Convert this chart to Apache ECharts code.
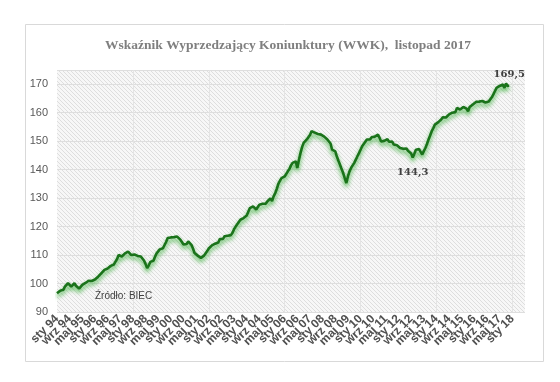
<!DOCTYPE html>
<html>
<head>
<meta charset="utf-8">
<script src="https://cdn.jsdelivr.net/npm/echarts@6/dist/echarts.min.js"></script>
<style>
html,body{margin:0;padding:0;background:#fff;}
#c{width:560px;height:382px;}
</style>
</head>
<body>
<div id="c"></div>
<script>
// ---- DATA ----
var monthNames = ['sty','lut','mar','kwi','maj','cze','lip','sie','wrz','paź','lis','gru'];
var startYear = 1994;
var axisMonths = 297; // Jan 1994 .. Sep 2018 (axis span)
var lastLabelIndex = 288; // "sty 18"
var yTicks = [90, 100, 110, 120, 130, 140, 150, 160, 170];
var wwk1994 = [96.6, 97.2, 97.5, 98.1, 97.8, 98.9, 99.4, 100.1, 99.5, 98.9, 99.6, 100.1];
var wwk1995 = [99.2, 98.6, 98.2, 98.9, 99.5, 99.1, 100.2, 100.7, 101.0, 101.3, 100.9, 100.7];
var wwk1996 = [101.4, 102.0, 102.4, 103.0, 103.6, 104.1, 104.8, 104.5, 105.3, 105.6, 106.2, 105.8];
var wwk1997 = [106.7, 107.7, 108.6, 110.0, 110.3, 109.5, 110.1, 110.6, 110.9, 111.2, 110.6, 110.0];
var wwk1998 = [109.8, 110.2, 109.5, 109.7, 109.3, 109.5, 108.9, 108.1, 106.9, 105.4, 106.3, 107.6];
var wwk1999 = [108.3, 108.0, 109.4, 110.6, 111.3, 112.0, 111.6, 112.4, 113.0, 114.6, 116.0, 116.4];
var wwk2000 = [116.2, 116.6, 116.3, 116.8, 116.5, 115.9, 115.4, 114.6, 113.7, 113.0, 113.9, 114.8];
var wwk2001 = [114.2, 113.6, 112.3, 110.7, 110.2, 109.8, 109.4, 109.0, 109.3, 109.8, 110.5, 111.4];
var wwk2002 = [112.3, 113.0, 113.4, 113.2, 114.0, 114.6, 114.4, 115.6, 116.0, 115.7, 116.6, 116.4];
var wwk2003 = [116.8, 117.2, 117.0, 117.8, 119.1, 120.0, 120.8, 121.6, 122.4, 122.1, 123.0, 123.6];
var wwk2004 = [123.9, 125.2, 126.5, 126.2, 127.1, 126.8, 126.0, 126.9, 127.7, 127.3, 128.0, 128.3];
var wwk2005 = [128.0, 128.8, 129.4, 129.9, 129.0, 130.6, 131.7, 133.2, 135.0, 136.1, 137.0, 137.4];
var wwk2006 = [137.6, 137.9, 139.4, 140.2, 141.5, 142.4, 142.0, 142.9, 140.6, 143.4, 145.8, 147.9];
var wwk2007 = [149.4, 150.0, 150.6, 151.1, 152.2, 153.5, 153.3, 153.0, 152.9, 152.5, 152.7, 152.3];
var wwk2008 = [151.9, 151.6, 151.1, 150.6, 149.9, 149.2, 147.0, 147.3, 146.4, 144.6, 143.1, 141.7];
var wwk2009 = [140.2, 138.8, 137.0, 135.3, 137.6, 139.4, 140.6, 141.3, 142.4, 143.5, 144.7, 145.8];
var wwk2010 = [147.0, 148.2, 149.0, 149.8, 150.6, 150.2, 150.6, 151.4, 151.1, 151.6, 152.0, 152.3];
var wwk2011 = [151.2, 149.9, 150.4, 150.1, 149.9, 150.7, 149.8, 149.4, 149.9, 148.8, 149.2, 148.6];
var wwk2012 = [148.2, 147.6, 148.0, 147.3, 147.0, 147.4, 146.6, 146.4, 145.7, 144.3, 145.6, 147.0];
var wwk2013 = [146.6, 147.2, 147.0, 145.3, 146.5, 147.6, 149.0, 150.6, 152.0, 153.5, 154.6, 155.8];
var wwk2014 = [155.8, 156.6, 157.3, 157.6, 158.4, 158.8, 158.3, 159.0, 159.4, 159.1, 160.0, 160.5];
var wwk2015 = [160.2, 161.7, 161.2, 161.1, 161.6, 162.0, 162.3, 161.4, 160.5, 162.0, 162.6, 162.9];
var wwk2016 = [163.4, 163.8, 164.1, 163.9, 164.3, 164.1, 163.8, 163.6, 163.5, 163.9, 164.6, 165.4];
var wwk2017 = [166.4, 167.6, 168.7, 168.2, 169.4, 169.0, 169.9, 168.7, 170.3, 169.4, 169.5];
var annotations = [
  {label: '169,5', value: 169.5, where: 'last'},
  {label: '144,3', value: 144.3, where: 'min2012'}
];
var titleText = 'Wskaźnik Wyprzedzający Koniunktury (WWK),  listopad 2017';
var sourceText = 'Źródło: BIEC';

// ---- BUILD ----
var values = [].concat(wwk1994, wwk1995, wwk1996, wwk1997, wwk1998, wwk1999, wwk2000,
  wwk2001, wwk2002, wwk2003, wwk2004, wwk2005, wwk2006, wwk2007, wwk2008, wwk2009,
  wwk2010, wwk2011, wwk2012, wwk2013, wwk2014, wwk2015, wwk2016, wwk2017);
var categories = [];
for (var i = 0; i < axisMonths; i++) {
  var y = startYear + Math.floor(i / 12);
  categories.push(monthNames[i % 12] + ' ' + String(y % 100).padStart(2, '0'));
}
var idx2012 = values.indexOf(144.3);
var markData = annotations.map(function (a) {
  var ix = a.where === 'last' ? values.length - 1 : idx2012;
  return {
    coord: [ix, a.value],
    value: a.label,
    label: {
      show: true, formatter: a.label,
      position: a.where === 'last' ? 'top' : 'bottom',
      distance: a.where === 'last' ? 6 : 10,
      color: '#404040', fontSize: 10, fontWeight: 'bold',
      fontFamily: 'DejaVu Serif'
    }
  };
});

// hatch pattern for plot background
var pat = document.createElement('canvas');
pat.width = 4; pat.height = 4;
var pctx = pat.getContext('2d');
pctx.fillStyle = '#f7f7f7';
pctx.fillRect(0, 0, 4, 4);
pctx.fillStyle = '#dedede';
for (var k = 0; k < 4; k++) { pctx.fillRect(k, k, 1, 1); }

var chart = echarts.init(document.getElementById('c'), null, {renderer: 'canvas'});
chart.setOption({
  animation: false,
  backgroundColor: '#ffffff',
  title: {
    text: titleText,
    left: 283, top: 34, textAlign: 'center',
    textStyle: {fontFamily: 'Liberation Serif', fontWeight: 'bold', fontSize: 13.5, color: '#7f7f7f'}
  },
  graphic: [
    {type: 'rect', shape: {x: 25.5, y: 24.5, width: 518, height: 337},
     style: {fill: 'none', stroke: '#d9d9d9', lineWidth: 1}, z: -1},
    {type: 'text', left: 95, top: 291,
     style: {text: sourceText, fill: '#404040', fontSize: 10, fontFamily: 'Liberation Sans'}, z: 10}
  ],
  grid: {
    left: 57, right: 35, top: 70, bottom: 70,
    show: true, borderWidth: 0,
    backgroundColor: {image: pat, repeat: 'repeat'}
  },
  xAxis: {
    type: 'category',
    data: categories,
    boundaryGap: false,
    axisLine: {show: false},
    axisTick: {show: false},
    splitLine: {show: true, interval: function (i) { return i > 0 && i % 48 === 0; },
      lineStyle: {color: '#e4e4e4', width: 1}},
    axisLabel: {
      rotate: 45, margin: 5,
      hideOverlap: false,
      interval: 0,
      formatter: function (v, i) { return (i % 8 === 0 && i <= lastLabelIndex) ? v : ''; },
      color: '#505050', fontSize: 12, fontWeight: 'bold', fontFamily: 'Liberation Sans'
    }
  },
  yAxis: {
    type: 'value',
    min: 90, max: 175, interval: 10,
    axisLine: {show: false},
    axisTick: {show: false},
    splitLine: {lineStyle: {color: '#dedede', width: 1}},
    axisLabel: {
      margin: 9, color: '#595959', fontSize: 11, fontFamily: 'Liberation Sans',
      showMaxLabel: false,
      formatter: function (v) { return yTicks.indexOf(v) >= 0 ? String(v) : ''; }
    }
  },
  series: [{
    type: 'line',
    data: values,
    showSymbol: false,
    symbol: 'none',
    smooth: false,
    lineStyle: {
      color: '#1a731a', width: 2.6,
      shadowColor: 'rgba(40,170,40,0.8)', shadowBlur: 4, shadowOffsetY: 3
    },
    markPoint: {
      symbol: 'circle', symbolSize: 0,
      data: markData
    }
  }]
});
</script>
</body>
</html>
